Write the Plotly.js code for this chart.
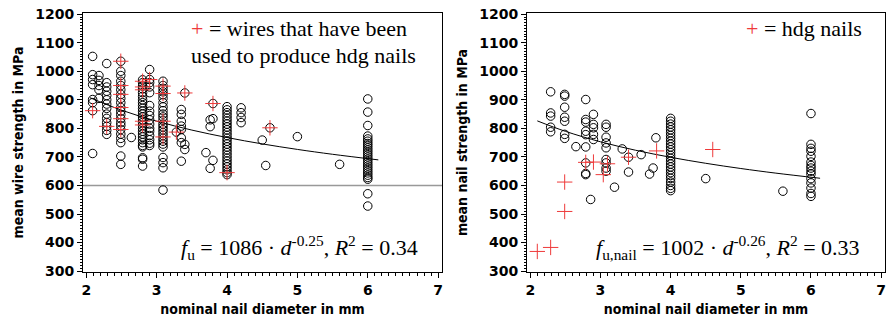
<!DOCTYPE html>
<html>
<head>
<meta charset="utf-8">
<script src="https://cdn.plot.ly/plotly-3.0.1.min.js"></script>
<style>html,body{margin:0;padding:0;background:#fff;}#chart{width:889px;height:317px;}</style>
</head>
<body>
<div id="chart"></div>
<script>
// ---------- Left panel: wires (nominal diameter d in mm, strength in MPa) ----------
const leftColD = [2.09, 2.18, 2.29, 2.49, 2.64, 2.8, 2.9, 3.09, 3.28, 3.35, 3.4, 3.7, 3.76, 3.8, 4.0, 4.2, 4.5, 4.55, 4.61, 5.0, 5.6, 6.0];
const leftColMPa = [
  [1052, 988, 971, 953, 901, 890, 862, 712],
  [985, 968, 950, 935, 905],
  [1027, 960, 945, 930, 915, 900, 885, 870, 850, 835, 820, 807, 793, 779],
  [1035, 1000, 985, 965, 950, 935, 919, 905, 890, 873, 860, 848, 834, 820, 810, 796, 780, 765, 750, 703, 674],
  [768],
  [970, 960, 948, 938, 925, 912, 900, 890, 880, 870, 860, 850, 840, 830, 820, 810, 800, 790, 780, 770, 760, 750, 740, 735, 697, 692, 668],
  [1006, 971, 960, 945, 925, 880, 860, 845, 830, 815, 800, 790, 775, 760, 748, 740],
  [965, 950, 940, 928, 918, 905, 890, 875, 862, 850, 840, 828, 815, 805, 795, 785, 775, 765, 755, 745, 735, 698, 680, 662, 584],
  [787],
  [866, 849, 825, 808, 796, 767, 750, 685],
  [924, 744, 726],
  [715],
  [830, 806, 660],
  [887, 834, 688],
  [876, 865, 855, 845, 835, 825, 815, 805, 795, 785, 775, 765, 755, 745, 735, 725, 715, 705, 695, 685, 675, 665, 655, 645, 638],
  [872, 855, 838, 820],
  [759],
  [670],
  [802],
  [771],
  [674],
  [903, 857, 810, 773, 763, 755, 747, 740, 732, 724, 716, 708, 700, 692, 684, 676, 668, 660, 652, 644, 636, 628, 622, 571, 528]
];
const leftHdgD   = [2.09, 2.29, 2.49, 2.49, 2.49, 2.49, 2.49, 2.49, 2.8, 2.8, 2.8, 2.8, 2.8, 2.9, 3.09, 3.09, 3.09, 3.09, 3.28, 3.4, 3.8, 4.0, 4.61];
const leftHdgMPa = [862, 807, 1035, 950, 919, 873, 834, 796, 965, 945, 935, 825, 812, 971, 948, 922, 825, 770, 787, 924, 887, 645, 802];
const leftFitD   = [2.05, 2.5, 3.0, 3.5, 4.0, 4.5, 5.0, 5.5, 6.15];
const leftFitMPa = [907.6, 863.7, 825.2, 794.0, 767.9, 745.6, 726.3, 709.2, 689.6];
const leftLimit = 600;

// ---------- Right panel: nails ----------
const rightColD = [2.29, 2.49, 2.65, 2.79, 2.86, 2.9, 3.08, 3.2, 3.31, 3.4, 3.58, 3.7, 3.75, 3.79, 4.0, 4.5, 5.6, 6.0];
const rightColMPa = [
  [928, 854, 843, 804, 788],
  [919, 913, 874, 839, 825, 779, 765],
  [736],
  [901, 831, 822, 790, 778, 735, 679, 642, 638],
  [551],
  [849, 814, 802, 779, 761],
  [814, 804, 769, 749, 732, 691, 679, 661, 650],
  [594],
  [728],
  [699, 647],
  [708],
  [640],
  [661],
  [767],
  [835, 825, 815, 805, 795, 785, 775, 765, 755, 745, 735, 725, 715, 705, 695, 685, 675, 665, 655, 645, 635, 625, 612, 600, 590, 582],
  [624],
  [580],
  [852, 744, 730, 720, 702, 682, 670, 661, 650, 640, 624, 609, 591, 572, 562]
];
const rightHdgD   = [2.1, 2.29, 2.49, 2.49, 2.79, 2.9, 3.04, 3.1, 3.4, 3.8, 4.6];
const rightHdgMPa = [369, 383, 612, 509, 681, 682, 638, 676, 699, 721, 726];
const rightFitD   = [2.1, 2.5, 3.0, 3.5, 4.0, 4.5, 5.0, 5.5, 6.13];
const rightFitMPa = [826.2, 789.6, 753.0, 723.4, 698.7, 677.7, 659.4, 643.2, 625.3];

const xTickVals = [2, 3, 4, 5, 6, 7];
const yTickVals = [300, 400, 500, 600, 700, 800, 900, 1000, 1100, 1200];

function expand(ds, vs) {
  const x = [], y = [];
  ds.forEach((d, i) => vs[i].forEach(v => { x.push(d); y.push(v); }));
  return {x, y};
}
const L = expand(leftColD, leftColMPa);
const R = expand(rightColD, rightColMPa);

const RED = '#ee3a3a';
const circ = {symbol: 'circle-open', size: 8.5, color: '#000', line: {color: '#000', width: 1}};
const cross = {symbol: 'cross-thin', size: 11, color: RED, line: {color: RED, width: 1}};

const traces = [
  {x: L.x, y: L.y, xaxis: 'x', yaxis: 'y', mode: 'markers', type: 'scatter', marker: circ},
  {x: leftFitD, y: leftFitMPa, xaxis: 'x', yaxis: 'y', mode: 'lines', type: 'scatter', line: {color: '#000', width: 1, shape: 'spline'}},
  {x: leftHdgD, y: leftHdgMPa, xaxis: 'x', yaxis: 'y', mode: 'markers', type: 'scatter', marker: cross},
  {x: R.x, y: R.y, xaxis: 'x2', yaxis: 'y2', mode: 'markers', type: 'scatter', marker: circ},
  {x: rightFitD, y: rightFitMPa, xaxis: 'x2', yaxis: 'y2', mode: 'lines', type: 'scatter', line: {color: '#000', width: 1, shape: 'spline'}},
  {x: rightHdgD, y: rightHdgMPa, xaxis: 'x2', yaxis: 'y2', mode: 'markers', type: 'scatter', marker: cross}
];

const W = 889, H = 317;
const px = v => v / W;
const py = v => 1 - v / H;

const tickFont = {family: 'DejaVu Sans', size: 14, weight: 'bold', color: '#000'};
const titleFont = {family: 'DejaVu Sans Condensed', size: 14, weight: 'bold', color: '#000'};
function xAxis(dom) {
  return {domain: dom, range: [1.953, 7.055], tickvals: xTickVals, ticks: 'outside', ticklen: 5, tickwidth: 1,
    tickcolor: '#000', showline: true, linecolor: '#000', linewidth: 1, mirror: true, showgrid: false, zeroline: false,
    tickfont: tickFont, minor: {dtick: 0.1, ticks: 'outside', ticklen: 2.5, tickcolor: '#000', showgrid: false},
    title: {text: 'nominal nail diameter in mm', font: titleFont, standoff: 7}};
}
function yAxis(dom, title, anchor) {
  return {domain: dom, anchor: anchor, range: [297, 1204], tickvals: yTickVals, ticks: 'outside', ticklen: 5, tickwidth: 1,
    tickcolor: '#000', showline: true, linecolor: '#000', linewidth: 1, mirror: true, showgrid: false, zeroline: false,
    tickfont: tickFont, minor: {dtick: 10, ticks: 'outside', ticklen: 2, tickcolor: '#000', showgrid: false},
    title: {text: title, font: titleFont, standoff: 8}};
}
const yDom = [py(272), py(13)];
const serif = {family: 'Liberation Serif', size: 22, color: '#000'};

const layout = {
  width: W, height: H, margin: {l: 0, r: 0, t: 0, b: 0}, showlegend: false,
  paper_bgcolor: '#fff', plot_bgcolor: '#fff',
  xaxis: Object.assign(xAxis([px(83), px(442)]), {anchor: 'y'}),
  yaxis: yAxis(yDom, 'mean wire strength in MPa', 'x'),
  xaxis2: Object.assign(xAxis([px(527), px(885)]), {anchor: 'y2'}),
  yaxis2: yAxis(yDom, 'mean nail strength in MPa', 'x2'),
  shapes: [
    {type: 'line', xref: 'x domain', yref: 'y', x0: 0, x1: 1, y0: leftLimit, y1: leftLimit, line: {color: '#999', width: 1.3}, layer: 'below'}
  ],
  annotations: [
    {xref: 'paper', yref: 'paper', x: px(189), y: py(29), xanchor: 'left', yanchor: 'middle', showarrow: false, font: serif,
      text: '<span style="color:' + RED + '">+</span> = wires that have been'},
    {xref: 'paper', yref: 'paper', x: px(189), y: py(55), xanchor: 'left', yanchor: 'middle', showarrow: false, font: serif,
      text: 'used to produce hdg nails'},
    {xref: 'paper', yref: 'paper', x: px(744), y: py(29), xanchor: 'left', yanchor: 'middle', showarrow: false, font: serif,
      text: '<span style="color:' + RED + '">+</span> = hdg nails'},
    {xref: 'paper', yref: 'paper', x: px(179), y: py(247), xanchor: 'left', yanchor: 'middle', showarrow: false, font: serif,
      text: '<i>f</i><sub>u</sub> = 1086 · <i>d</i><sup>-0.25</sup>, <i>R</i><sup>2</sup> = 0.34'},
    {xref: 'paper', yref: 'paper', x: px(594), y: py(247), xanchor: 'left', yanchor: 'middle', showarrow: false, font: serif,
      text: '<i>f</i><sub>u,nail</sub> = 1002 · <i>d</i><sup>-0.26</sup>, <i>R</i><sup>2</sup> = 0.33'}
  ]
};

Plotly.newPlot('chart', traces, layout, {staticPlot: true, displayModeBar: false});
</script>
</body>
</html>
